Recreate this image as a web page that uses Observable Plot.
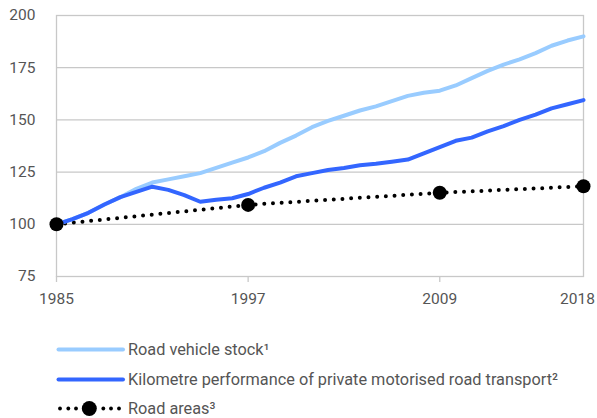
<!DOCTYPE html>
<html>
<head>
<meta charset="utf-8">
<script src="https://cdn.jsdelivr.net/npm/d3@7"></script>
<script src="https://cdn.jsdelivr.net/npm/@observablehq/plot@0.6"></script>
<style>
  body { margin: 0; background: #fff; font-family: Roboto, sans-serif; }
  #wrap { width: 597px; }
</style>
</head>
<body>
<div id="wrap"><div id="chart"></div><div id="legend"></div></div>
<script>
const years = [1985,1986,1987,1988,1989,1990,1991,1992,1993,1994,1995,1996,1997,1998,1999,2000,2001,2002,2003,2004,2005,2006,2007,2008,2009,2010,2011,2012,2013,2014,2015,2016,2017,2018];
const vehicleStock = [100,102.5,105.5,109.5,113,117,120,121.5,123,124.5,127,129.5,132,135,139,142.5,146.5,149.5,152,154.5,156.5,159,161.5,163,164,166.5,170,173.5,176.5,179,182,185.5,188,190];
const kmPerformance = [100,102.5,105.5,109.5,113,115.5,118,116.5,114,110.8,111.8,112.5,114.5,117.5,120,123,124.5,126,127,128.3,129,130,131,134,137,140,141.5,144.5,147,150,152.5,155.5,157.5,159.5];
const roadAreaYears = [1985,1997,2009,2018];
const roadAreas = [100,109.3,115.1,118.2];
const yTicks = [75,100,125,150,175,200];
const xTicks = [1985,1997,2009,2018];
const seriesNames = ["Road vehicle stock¹", "Kilometre performance of private motorised road transport²", "Road areas³"];
const colors = ["#99ccff", "#3366ff", "#000000"];

const stockData = years.map((year, i) => ({year, value: vehicleStock[i]}));
const kmData = years.map((year, i) => ({year, value: kmPerformance[i]}));
const roadData = roadAreaYears.map((year, i) => ({year, value: roadAreas[i]}));

const fontW = 400;
const textColor = "#555";
const chart = Plot.plot({
  width: 597,
  height: 318,
  marginTop: 15,
  marginLeft: 56,
  marginRight: 14,
  marginBottom: 42,
  x: {domain: [1985, 2018], axis: null},
  y: {domain: [75, 200], axis: null},
  style: {fontFamily: "Roboto, sans-serif", fontSize: "15.5px", color: textColor, background: "#fff", overflow: "visible"},
  marks: [
    Plot.gridY(yTicks.slice(1, -1), {stroke: "#c8c8c8", strokeOpacity: 1, strokeWidth: 1.3}),
    Plot.frame({stroke: "#c8c8c8", strokeWidth: 1.3}),
    Plot.axisY(yTicks, {tickSize: 0, tickPadding: 21, fontWeight: fontW, label: null}),
    Plot.axisX(xTicks.slice(0, 3), {tickSize: 6, tickPadding: 10, stroke: "#c8c8c8", strokeWidth: 1.3, fontWeight: fontW, tickFormat: d => String(d), label: null}),
    Plot.axisX(xTicks.slice(3), {tickSize: 0, tickPadding: 16, dx: -6, fontWeight: fontW, tickFormat: d => String(d), label: null}),
    Plot.line(roadData, {x: "year", y: "value", stroke: colors[2], strokeWidth: 4, strokeDasharray: "0 8.7", strokeLinecap: "round"}),
    Plot.line(stockData, {x: "year", y: "value", stroke: colors[0], strokeWidth: 4, strokeLinejoin: "round"}),
    Plot.line(kmData, {x: "year", y: "value", stroke: colors[1], strokeWidth: 4, strokeLinejoin: "round"}),
    Plot.dot(roadData, {x: "year", y: "value", r: 7, fill: colors[2], stroke: null})
  ]
});
document.getElementById("chart").appendChild(chart);

// Legend below the chart
const lg = d3.select("#legend").append("svg")
  .attr("width", 597).attr("height", 100)
  .style("display", "block");
const rowY = [31.5, 61.5, 90.5];
lg.append("line").attr("x1", 58.5).attr("x2", 123).attr("y1", rowY[0]).attr("y2", rowY[0])
  .attr("stroke", colors[0]).attr("stroke-width", 4).attr("stroke-linecap", "round");
lg.append("line").attr("x1", 58.5).attr("x2", 123).attr("y1", rowY[1]).attr("y2", rowY[1])
  .attr("stroke", colors[1]).attr("stroke-width", 4).attr("stroke-linecap", "round");
[60, 68.3, 76, 103.3, 111, 119].forEach(x => {
  lg.append("circle").attr("cx", x).attr("cy", rowY[2]).attr("r", 1.9).attr("fill", colors[2]);
});
lg.append("circle").attr("cx", 89.3).attr("cy", rowY[2]).attr("r", 7.5).attr("fill", colors[2]);
seriesNames.forEach((name, i) => {
  lg.append("text").attr("x", 128).attr("y", rowY[i]).attr("dy", "0.36em")
    .attr("font-family", "Roboto, sans-serif").attr("font-size", 16.3).attr("font-weight", fontW)
    .attr("fill", textColor).text(name);
});
</script>
</body>
</html>
